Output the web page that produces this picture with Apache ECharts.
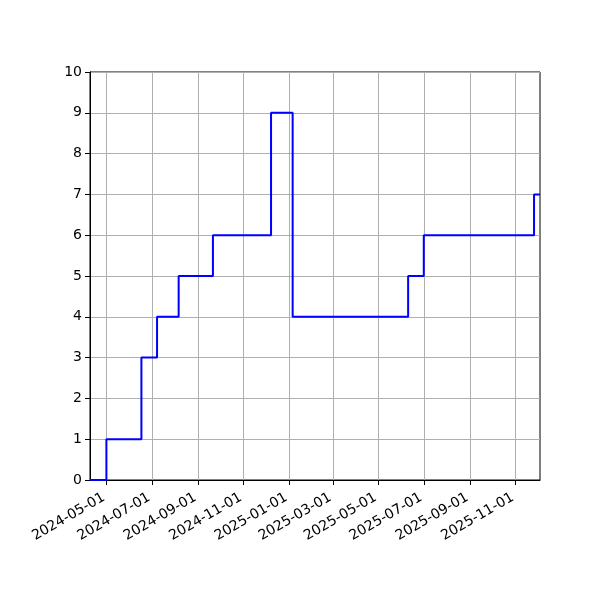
<!DOCTYPE html>
<html>
<head>
<meta charset="utf-8">
<script src="https://cdn.jsdelivr.net/npm/echarts@6/dist/echarts.min.js"></script>
<style>
  html, body { margin: 0; padding: 0; background: #fff; }
  #chart { width: 600px; height: 600px; }
</style>
</head>
<body>
<div id="chart"></div>
<script>
// step points (value holds until the next date)
const dates = ['2024-04-09', '2024-05-01', '2024-06-17', '2024-07-08', '2024-08-06', '2024-09-21',
  '2024-12-08', '2025-01-06', '2025-06-10', '2025-07-01', '2025-11-26', '2025-12-04'];
const counts = [0, 1, 3, 4, 5, 6, 9, 4, 5, 6, 7, 7];

const xTicks = ['2024-05-01', '2024-07-01', '2024-09-01', '2024-11-01', '2025-01-01',
  '2025-03-01', '2025-05-01', '2025-07-01', '2025-09-01', '2025-11-01'];
const yMin = 0, yMax = 10, yStep = 1;

function toTime(s) {
  return new Date(s + 'T00:00:00').getTime();
}

const tickValues = xTicks.map(toTime);
const seriesData = dates.map((d, i) => [toTime(d), counts[i]]);

const chart = echarts.init(document.getElementById('chart'), null, { renderer: 'canvas' });

const font = 'DejaVu Sans';

chart.setOption({
  animation: false,
  backgroundColor: '#fff',
  grid: {
    left: 90, right: 60, top: 72, bottom: 120,
    show: true, borderColor: '#000', borderWidth: 1, backgroundColor: 'transparent'
  },
  xAxis: {
    type: 'value',
    min: toTime(dates[0]),
    max: toTime(dates[dates.length - 1]),
    axisLine: { show: true, onZero: false, lineStyle: { color: '#000', width: 1 } },
    axisTick: { show: true, length: 5, inside: false, customValues: tickValues, lineStyle: { color: '#000' } },
    axisLabel: {
      customValues: tickValues,
      rotate: 30,
      margin: 15,
      padding: [0, 3, 0, 0],
      color: '#000',
      fontFamily: font,
      fontSize: 14,
      formatter: function (v) {
        return echarts.time.format(v, '{yyyy}-{MM}-{dd}', false);
      }
    },
    splitLine: { show: false }
  },
  yAxis: {
    type: 'value',
    min: yMin, max: yMax, interval: yStep,
    axisLine: { show: true, lineStyle: { color: '#000', width: 1 } },
    axisTick: { show: true, length: 5, lineStyle: { color: '#000' } },
    axisLabel: { color: '#000', fontFamily: font, fontSize: 14, margin: 8 },
    splitLine: { show: true, lineStyle: { color: '#b0b0b0', width: 1 } }
  },
  series: [{
    type: 'line',
    step: 'end',
    data: seriesData,
    showSymbol: false,
    lineStyle: { color: '#0000ff', width: 2 },
    itemStyle: { color: '#0000ff' },
    markLine: {
      silent: true,
      symbol: 'none',
      label: { show: false },
      lineStyle: { color: '#b0b0b0', width: 1, type: 'solid' },
      z: 1,
      data: tickValues.map(t => ({ xAxis: t }))
    }
  }]
});
</script>
</body>
</html>
